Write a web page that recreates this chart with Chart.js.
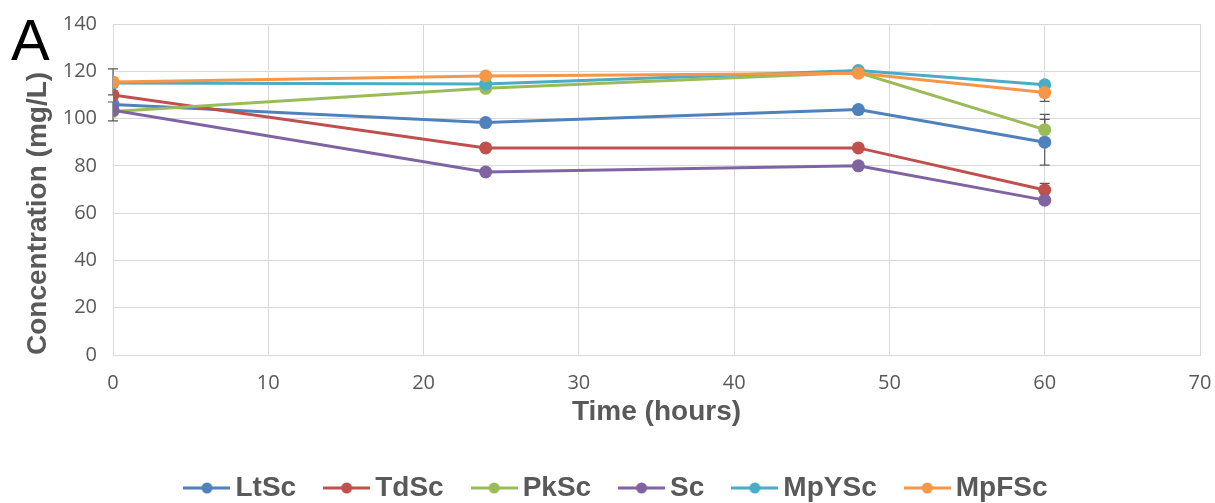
<!DOCTYPE html>
<html>
<head>
<meta charset="utf-8">
<script src="https://cdn.jsdelivr.net/npm/chart.js@4/dist/chart.umd.min.js"></script>
<style>
  body { margin: 0; background: #fff; }
  #wrap { position: relative; width: 1215px; height: 503px; }
  #panel { position: absolute; left: 11px; top: 11px; font: 58px/58px "Liberation Sans", Arial, sans-serif; color: #000; }
</style>
</head>
<body>
<div id="wrap">
  <canvas id="chart" width="1215" height="503"></canvas>
  <div id="panel">A</div>
</div>
<script>
// time points (hours)
const times = [0, 24, 48, 60];

const seriesNames = ["LtSc", "TdSc", "PkSc", "Sc", "MpYSc", "MpFSc"];
const seriesColors = ["#4F81BD", "#C0504D", "#9BBB59", "#8064A2", "#4BACC6", "#F79646"];

// concentrations (mg/L)
const ltSc  = [106, 98.3, 103.8, 90];
const tdSc  = [110, 87.6, 87.6, 69.8];
const pkSc  = [103, 112.8, 119.5, 95.3];
const sc    = [103.5, 77.4, 80, 65.5];
const mpYSc = [115, 114.6, 120.3, 114.3];
const mpFSc = [115.5, 118, 119.2, 111];

// error bar half-widths (0 = not visible)
const ltScErr  = [0, 0, 0, 9.7];
const tdScErr  = [0, 0, 0, 2.8];
const pkScErr  = [4, 0, 0, 6.5];
const scErr    = [0, 0, 0, 0];
const mpYScErr = [0, 0, 0, 0];
const mpFScErr = [5.5, 0, 0, 3.7];

const xTicks = [0, 10, 20, 30, 40, 50, 60, 70];
const yTicks = [0, 20, 40, 60, 80, 100, 120, 140];

const allValues = [ltSc, tdSc, pkSc, sc, mpYSc, mpFSc];
const allErrors = [ltScErr, tdScErr, pkScErr, scErr, mpYScErr, mpFScErr];

const titleFont = "'Liberation Sans', Arial, sans-serif";
const tickFont = "'Open Sans', sans-serif";
Chart.defaults.color = "#595959";

// legend symbol: short line with a dot, like the spreadsheet legend
function legendSymbol(color) {
    const c = document.createElement("canvas");
    c.width = 47;
    c.height = 14;
    const g = c.getContext("2d");
    g.strokeStyle = color;
    g.lineWidth = 3;
    g.beginPath();
    g.moveTo(0, 7);
    g.lineTo(47, 7);
    g.stroke();
    g.fillStyle = color;
    g.beginPath();
    g.arc(23.5, 7, 5.5, 0, Math.PI * 2);
    g.fill();
    return c;
}

const datasets = seriesNames.map((name, i) => ({
    label: name,
    data: times.map((t, j) => ({ x: t, y: allValues[i][j] })),
    errors: allErrors[i],
    borderColor: seriesColors[i],
    backgroundColor: seriesColors[i],
    pointStyle: "circle",
    legendSymbol: legendSymbol(seriesColors[i]),
    borderWidth: 3,
    pointRadius: 6.5,
    pointBorderWidth: 0,
    pointHoverRadius: 6.5,
    tension: 0,
    order: seriesNames.length - i
}));

// vertical error bars drawn under the markers
const errorBars = {
    id: "errorBars",
    beforeDatasetsDraw(chart) {
        const ctx = chart.ctx;
        const xs = chart.scales.x;
        const ys = chart.scales.y;
        ctx.save();
        ctx.strokeStyle = "#595959";
        ctx.lineWidth = 1.2;
        chart.data.datasets.forEach(ds => {
            ds.data.forEach((p, j) => {
                const e = ds.errors[j];
                if (!e) return;
                const px = xs.getPixelForValue(p.x);
                const top = ys.getPixelForValue(p.y + e);
                const bot = ys.getPixelForValue(p.y - e);
                ctx.beginPath();
                ctx.moveTo(px, top);
                ctx.lineTo(px, bot);
                ctx.moveTo(px - 5, top);
                ctx.lineTo(px + 5, top);
                ctx.moveTo(px - 5, bot);
                ctx.lineTo(px + 5, bot);
                ctx.stroke();
            });
        });
        ctx.restore();
    }
};

// keep the legend strip a fixed height and nudge it right
const legendPlace = {
    id: "legendPlace",
    beforeLayout(chart) {
        const lg = chart.legend;
        if (lg && !lg._fixed) {
            const fit = lg.fit.bind(lg);
            lg.fit = function () { fit(); this.height = 65; };
            lg._fixed = true;
        }
    },
    afterLayout(chart) {
        const lg = chart.legend;
        lg.left += 20;
        lg.right += 20;
    }
};

const hiddenTicks = "rgba(0,0,0,0)";

new Chart(document.getElementById("chart").getContext("2d"), {
    type: "line",
    data: { datasets: datasets },
    plugins: [errorBars, legendPlace],
    options: {
        responsive: false,
        animation: false,
        layout: { padding: { left: 0, right: 15, top: 24, bottom: 0 } },
        scales: {
            x: {
                type: "linear",
                min: 0,
                max: 70,
                afterBuildTicks: s => { s.ticks = xTicks.map(v => ({ value: v })); },
                afterFit: s => { s.height = 83; },
                grid: { color: "#d9d9d9", lineWidth: 1, drawTicks: true, tickLength: 13, tickColor: hiddenTicks },
                border: { color: "#d9d9d9" },
                ticks: { padding: 3, font: { family: tickFont, size: 20 }, color: "#595959" },
                title: {
                    display: true,
                    text: "Time (hours)",
                    font: { family: titleFont, size: 28, weight: "bold" },
                    color: "#595959",
                    padding: { top: 0, bottom: 9 }
                }
            },
            y: {
                min: 0,
                max: 140,
                afterBuildTicks: s => { s.ticks = yTicks.map(v => ({ value: v })); },
                afterFit: s => { s.width = 113; },
                grid: { color: "#d9d9d9", lineWidth: 1, drawTicks: true, tickLength: 13, tickColor: hiddenTicks },
                border: { color: "#d9d9d9" },
                ticks: { padding: 3, font: { family: tickFont, size: 20 }, color: "#595959" },
                title: {
                    display: true,
                    text: "Concentration (mg/L)",
                    align: "start",
                    font: { family: titleFont, size: 28, weight: "bold" },
                    color: "#595959",
                    padding: { top: 21, bottom: 0 }
                }
            }
        },
        plugins: {
            tooltip: { enabled: false },
            legend: {
                position: "bottom",
                labels: {
                    usePointStyle: true,
                    pointStyleWidth: 29,
                    boxHeight: 14,
                    padding: 36,
                    color: "#595959",
                    font: { family: titleFont, size: 28, weight: "bold" },
                    sort: (a, b) => a.datasetIndex - b.datasetIndex,
                    generateLabels: chart => chart.data.datasets.map((ds, i) => ({
                        text: ds.label,
                        pointStyle: ds.legendSymbol,
                        fillStyle: ds.backgroundColor,
                        strokeStyle: ds.borderColor,
                        fontColor: "#595959",
                        lineWidth: 0,
                        hidden: false,
                        datasetIndex: i
                    }))
                }
            }
        }
    }
});
</script>
</body>
</html>
